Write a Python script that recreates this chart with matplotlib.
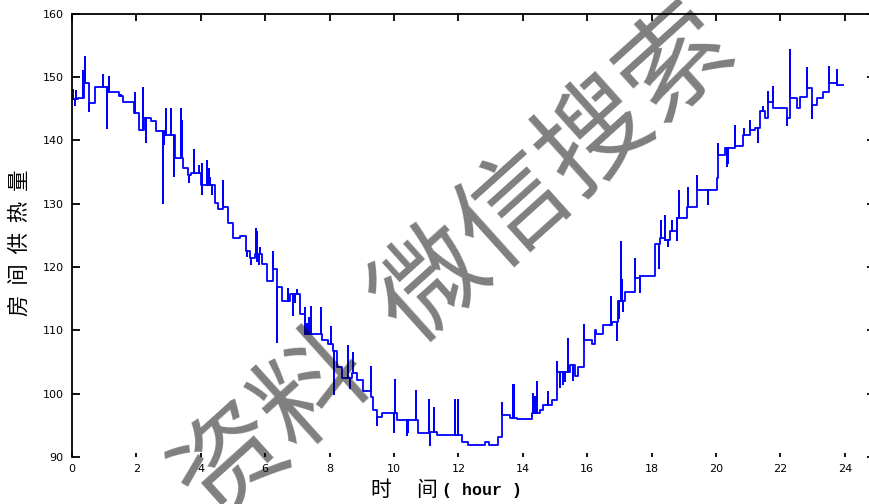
import numpy as np
import matplotlib
matplotlib.use("Agg")
import matplotlib.pyplot as plt

# step levels of the heat load curve: start time (h) and level
step_t = [0.00, 0.18, 0.38, 0.52, 0.72, 1.12, 1.47, 1.57, 1.94, 2.07, 2.23, 2.45,
          2.61, 2.88, 3.20, 3.44, 3.59, 3.70, 4.01, 4.44, 4.54, 4.70, 4.86, 5.01,
          5.22, 5.40, 5.53, 5.68, 5.89, 6.05, 6.25, 6.38, 6.51, 6.77, 7.08, 7.24,
          7.75, 7.96, 8.12, 8.22, 8.38, 8.69, 8.84, 9.05, 9.30, 9.36, 9.46, 9.62,
          10.08, 10.55, 10.76, 11.12, 11.33, 12.10, 12.31, 12.83, 12.95, 13.24,
          13.35, 13.60, 13.81, 14.28, 14.45, 14.53, 14.64, 14.90, 15.05, 15.47,
          15.62, 15.72, 15.90, 16.14, 16.24, 16.26, 16.50, 16.76, 16.95, 17.17,
          17.48, 17.64, 18.11, 18.26, 18.42, 18.57, 18.78, 19.09, 19.40, 20.02,
          20.07, 20.28, 20.59, 20.85, 21.06, 21.21, 21.37, 21.52, 21.62, 21.78,
          22.19, 22.30, 22.51, 22.61, 22.82, 22.97, 23.13, 23.33, 23.52, 23.75]
step_v = [146.5, 146.7, 149.0, 145.9, 148.5, 147.7, 147.0, 146.1, 144.3, 141.7, 143.5, 143.0,
          141.4, 140.9, 137.2, 135.6, 134.6, 134.8, 133.0, 130.1, 129.1, 129.4, 127.0, 124.6,
          124.9, 122.5, 121.5, 122.0, 120.5, 117.8, 119.7, 116.8, 114.7, 115.7, 112.6, 109.5,
          108.4, 107.9, 106.8, 104.2, 102.4, 103.2, 102.1, 100.5, 99.5, 97.4, 96.3, 96.9,
          95.8, 95.8, 93.8, 94.0, 93.5, 92.4, 91.9, 92.3, 91.9, 93.2,
          96.6, 96.1, 96.0, 97.0, 96.9, 97.5, 98.2, 99.0, 103.4, 104.5,
          102.8, 104.2, 108.4, 107.9, 110.0, 109.4, 110.8, 111.3, 114.7, 116.0,
          118.3, 118.6, 123.6, 124.6, 124.2, 125.7, 127.8, 129.4, 132.2, 134.1,
          137.7, 138.8, 139.1, 140.9, 141.7, 141.9, 144.6, 143.5, 146.1, 145.1,
          143.5, 146.7, 145.1, 146.9, 148.2, 145.6, 146.7, 147.7, 149.0, 148.8]
t_end = 23.95

# short spikes on top of the steps: time (h) and peak value
spike_t = [0.03, 0.08, 0.12, 0.35, 0.40, 0.52, 0.95, 1.08, 1.14, 1.52, 1.97, 2.21,
           2.30, 2.84, 2.86, 2.92, 3.07, 3.18, 3.39, 3.42, 3.62, 3.78, 3.95, 4.03,
           4.05, 4.18, 4.25, 4.30, 4.35, 4.70, 5.45, 5.55, 5.72, 5.74, 5.76, 5.80,
           5.85, 6.23, 6.38, 6.72, 6.85, 6.92, 7.00, 7.24, 7.30, 7.35, 7.41, 7.72,
           8.05, 8.15, 8.58, 8.63, 8.74, 9.28, 9.46, 10.00, 10.03, 10.40, 10.45,
           10.68, 11.09, 11.12, 11.24, 11.89, 12.00, 13.34, 13.71, 13.74, 14.33,
           14.38, 14.43, 14.79, 15.05, 15.15, 15.25, 15.30, 15.41, 15.57, 15.90,
           16.73, 16.92, 17.00, 17.04, 17.08, 17.12, 17.48, 17.64, 18.22, 18.30,
           18.42, 18.50, 18.62, 18.78, 18.85, 19.12, 19.40, 19.76, 20.05, 20.07,
           20.33, 20.38, 20.59, 20.86, 21.06, 21.31, 21.46, 21.62, 21.76, 22.19,
           22.31, 22.82, 22.97, 23.52, 23.75]
spike_v = [148.0, 145.6, 147.8, 151.0, 153.2, 144.6, 150.3, 142.0, 150.0, 147.2, 147.5, 148.2,
           139.8, 130.1, 139.5, 145.0, 145.0, 134.3, 145.0, 143.0, 133.5, 138.4, 136.0, 131.5,
           136.2, 136.7, 135.5, 134.0, 131.5, 133.6, 121.8, 120.5, 126.0, 121.0, 125.5, 120.5,
           123.0, 122.3, 108.1, 116.6, 112.5, 114.5, 116.4, 113.5, 111.0, 112.0, 113.7, 113.5,
           110.5, 100.0, 107.5, 100.9, 106.5, 104.2, 95.0, 94.0, 102.1, 93.5, 94.0,
           100.5, 99.0, 91.9, 97.7, 99.0, 99.0, 98.5, 101.3, 101.3, 100.0,
           99.5, 101.8, 100.2, 105.0, 101.0, 101.5, 102.0, 108.7, 102.1, 110.8,
           115.2, 108.4, 112.0, 123.9, 118.0, 113.0, 121.2, 116.0, 119.9, 127.3,
           128.0, 123.3, 127.3, 124.3, 132.0, 132.5, 134.3, 130.0, 135.9, 139.4,
           136.0, 136.5, 142.2, 141.8, 143.0, 139.8, 145.3, 147.7, 148.5, 142.5,
           154.3, 151.4, 143.5, 151.6, 151.1]

x_ticks = list(range(0, 25, 2))
y_ticks = list(range(90, 161, 10))

# build the step path with spikes
st = np.array(step_t)
sv = np.array(step_v)
xs = [st[0]]
ys = [sv[0]]
for i in range(1, len(st)):
    xs += [st[i], st[i]]
    ys += [sv[i - 1], sv[i]]
xs.append(t_end)
ys.append(sv[-1])
for t, s in zip(spike_t, spike_v):
    lev = sv[np.searchsorted(st, t, side="right") - 1]
    xs += [t, t, t]
    ys += [lev, s, lev]
xs = np.array(xs)
ys = np.array(ys)
order = np.argsort(xs, kind="stable")
xs, ys = xs[order], ys[order]

fig = plt.figure(figsize=(8.69, 5.04), dpi=100)
ax = fig.add_axes([72 / 869, 1 - 457 / 504, (877 - 72) / 869, (457 - 13.7) / 504])
ax.plot(xs, ys, color="#0000ff", lw=1.3)

ax.set_xlim(0, 25)
ax.set_ylim(90, 160)
ax.set_xticks(x_ticks)
ax.set_yticks(y_ticks)
ax.spines["bottom"].set_visible(False)
for s in ["left", "top", "right"]:
    ax.spines[s].set_linewidth(1.3)
ax.tick_params(axis="y", direction="in", length=6, width=1.3, pad=6,
               labelsize=8, left=True, right=True)
ax.tick_params(axis="x", direction="in", length=3, width=1.3, pad=5,
               labelsize=8, bottom=True, top=True)
for t in ax.xaxis.get_major_ticks():
    t.tick2line.set_markersize(5)
for t in ax.yaxis.get_major_ticks():
    t.tick2line.set_markersize(7)

cjk = ["Noto Sans CJK SC", "DejaVu Sans"]
fig.text(20 / 869, 1 - 243 / 504, "房  间  供  热  量", rotation=90, ha="center",
         va="center", fontsize=15.5, family=cjk)
fig.text(381 / 869, 1 - 490 / 504, "时", ha="center", va="center",
         fontsize=15, family=cjk)
fig.text(427 / 869, 1 - 490 / 504, "间", ha="center", va="center",
         fontsize=15, family=cjk)
fig.text(482 / 869, 1 - 490 / 504, "( hour )", ha="center", va="center",
         fontsize=12, family="Liberation Mono", weight="bold")

# watermark
fig.text(456 / 869, 1 - 266 / 504, "资料  微信搜索", rotation=42,
         rotation_mode="anchor", ha="center", va="center", fontsize=79,
         family=cjk, weight="medium", color="black", alpha=0.5)

fig.savefig("out.png", dpi=100)
